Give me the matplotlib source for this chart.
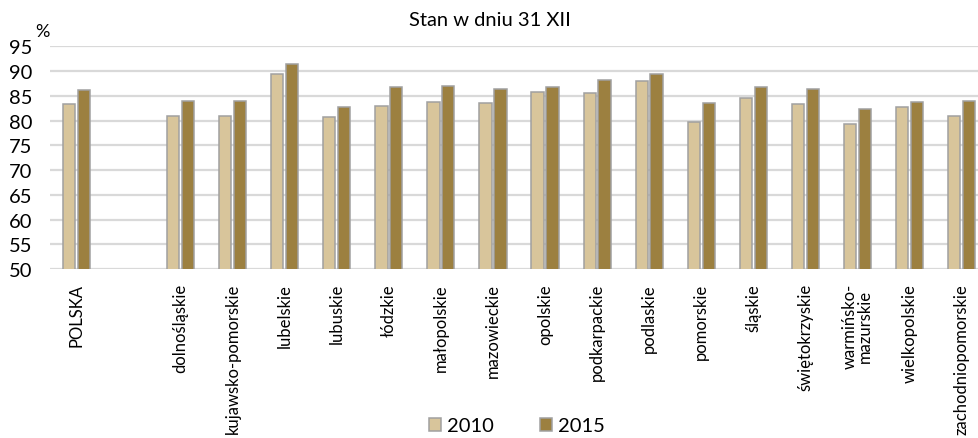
import matplotlib.pyplot as plt
import numpy as np

plt.rcParams['font.family'] = ['Lato', 'DejaVu Sans']

# województwa, z pustym miejscem po POLSCE
regions = ["POLSKA", "", "dolnośląskie", "kujawsko-pomorskie", "lubelskie", "lubuskie",
           "łódzkie", "małopolskie", "mazowieckie", "opolskie", "podkarpackie",
           "podlaskie", "pomorskie", "śląskie", "świętokrzyskie",
           "warmińsko-\nmazurskie", "wielkopolskie", "zachodniopomorskie"]
val_2010 = [83.3, np.nan, 81.0, 81.0, 89.4, 80.7, 82.9, 83.7, 83.5, 85.8, 85.5,
            88.0, 79.8, 84.6, 83.3, 79.4, 82.8, 81.0]
val_2015 = [86.1, np.nan, 83.9, 83.9, 91.5, 82.8, 86.7, 87.0, 86.4, 86.7, 88.2,
            89.5, 83.5, 86.7, 86.4, 82.4, 83.7, 83.9]
years = ["2010", "2015"]
y_ticks = list(range(50, 100, 5))

c2010 = "#d8c59b"
c2015 = "#9c8040"
edge = "#a0a0a0"

fig = plt.figure(figsize=(9.79, 4.39), dpi=100)
ax = fig.add_axes([50.5 / 979, 169 / 439, 937 / 979, 222.7 / 439])

x = np.arange(len(regions))
w = 0.235
off = 0.143
ax.bar(x - off, val_2010, w, color=c2010, edgecolor=edge, linewidth=1.1,
       label=years[0], zorder=3)
ax.bar(x + off, val_2015, w, color=c2015, edgecolor=edge, linewidth=1.1,
       label=years[1], zorder=3)

ax.set_xlim(-0.5, len(regions) - 0.5)
ax.set_ylim(50, 95)
ax.set_yticks(y_ticks)
ax.yaxis.grid(True, color="#d9d9d9", linewidth=1.6, zorder=0)
ax.set_axisbelow(True)
for s in ax.spines.values():
    s.set_visible(False)

ax.set_xticks(x)
ax.set_xticklabels(regions, rotation=90, va="top", ha="center",
                   fontsize=12, linespacing=0.95)
ax.tick_params(axis="x", length=0, pad=10)
ax.tick_params(axis="y", length=0, pad=13, labelsize=14.5)

fig.text(42 / 979, 1 - 32 / 439, "%", ha="center", va="center", fontsize=13)
fig.text(490 / 979, 1 - 20 / 439, "Stan w dniu 31 XII", ha="center",
         va="center", fontsize=14.5)

fig.legend(loc="center", bbox_to_anchor=(517 / 979, 1 - 427 / 439), ncol=2,
           frameon=False, fontsize=14.5, handlelength=0.6, handleheight=0.6,
           handletextpad=0.3, columnspacing=2.3)

fig.savefig("out.png", dpi=100)
